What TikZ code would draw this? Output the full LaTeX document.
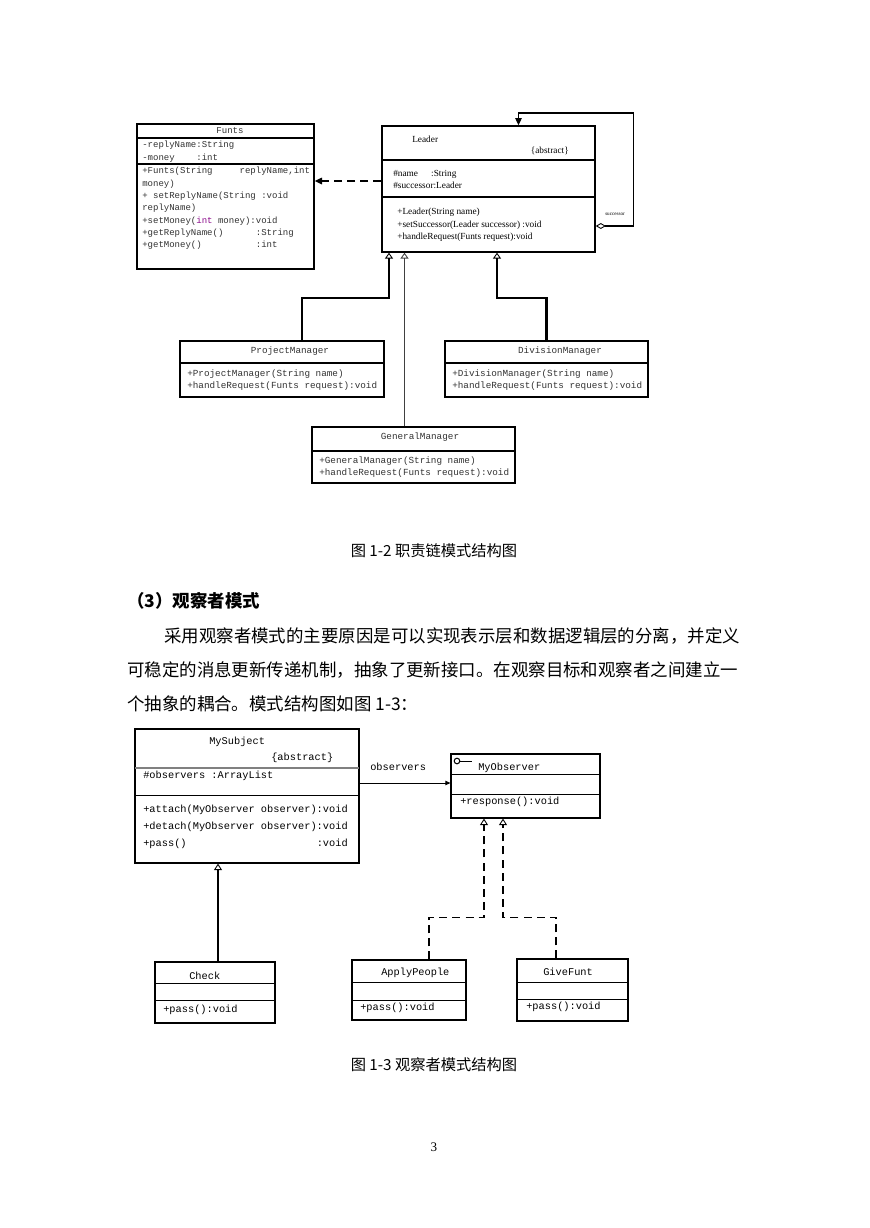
\documentclass[tikz,border=0pt]{standalone}
\usepackage{fontspec}
\setmainfont{Liberation Serif}
\newfontfamily\cjk{Noto Sans CJK SC}
\newfontfamily\umlmono{Liberation Mono}
\usetikzlibrary{arrows.meta,fit,calc,positioning}
\definecolor{intpurple}{rgb}{0.55,0.05,0.55}

\tikzset{
  classbox/.style={draw, line width=1pt, inner sep=0pt},
  obsbox/.style={draw, line width=0.75pt, inner sep=0pt},
  sep/.style={line width=0.8pt},
  septhin/.style={line width=0.6pt},
  funtstext/.style={font=\umlmono\fontsize{6.2}{8.5}\selectfont, text=black!80, inner sep=0pt, align=left},
  leadertext/.style={font=\fontsize{6.4}{8.5}\selectfont, inner sep=0pt, align=left},
  mgrtext/.style={font=\umlmono\fontsize{6.4}{8.8}\selectfont, text=black!80, inner sep=0pt, align=left},
  obstext/.style={font=\umlmono\fontsize{7.1}{11.6}\selectfont, inner sep=0pt, align=left},
  cntext/.style={font=\cjk\fontsize{12}{12}\selectfont, inner sep=0pt, anchor=west},
  captext/.style={font=\cjk\fontsize{10.5}{10.5}\selectfont, inner sep=0pt},
  depend/.style={-{Triangle[length=5pt,width=4.5pt]}, line width=1pt, dash pattern=on 5.5pt off 3.5pt},
  selfassoc/.style={{Diamond[open,length=7pt,width=4pt,line width=0.6pt]}-{Triangle[length=5pt,width=4.5pt]}, line width=0.9pt},
  genthick/.style={-{Triangle[open,length=4pt,width=5.5pt,line width=0.6pt]}, line width=1.6pt},
  genthin/.style={-{Triangle[open,length=4pt,width=5.5pt,line width=0.6pt]}, line width=0.7pt, black!75},
  gen/.style={-{Triangle[open,length=4.5pt,width=5.5pt,line width=0.6pt]}, line width=0.7pt},
  realize/.style={-{Triangle[open,length=4.5pt,width=5.5pt,line width=0.6pt]}, line width=0.7pt, dash pattern=on 5.5pt off 3.5pt},
  assoc/.style={-{Triangle[length=3.5pt,width=3pt]}, line width=0.7pt}
}

\begin{document}
\begin{tikzpicture}[x=0.2417mm,y=-0.2417mm]
  \useasboundingbox (0,0) rectangle (869,1228);

  % chain of responsibility classes
  \node (funts) [classbox, fit={(137,124) (314,269)}] {};
  \draw[sep] (137,138) -- (314,138);
  \draw[sep] (137,164) -- (314,164);
  \node (funtsname) [funtstext] at (230,131) {Funts};
  \node (funtsattr) [funtstext, anchor=north west] at (142,141)
        {-replyName:String\\-money~~~~:int};
  \node (funtsops) [funtstext, anchor=north west] at (142,167)
        {+Funts(String~~~~~replyName,int\\
         money)\\
         +~setReplyName(String~:void\\
         replyName)\\
         +setMoney(\textcolor{intpurple}{int}~money):void\\
         +getReplyName()~~~~~~:String\\
         +getMoney()~~~~~~~~~~:int};

  \node (leader) [classbox, fit={(382,126) (595,252)}] {};
  \draw[sep] (382,160) -- (595,160);
  \draw[sep] (382,197) -- (595,197);
  \node (leadername) [leadertext, anchor=west] at (412,139) {Leader};
  \node (leaderabs) [leadertext, anchor=east] at (569,151) {\{abstract\}};
  \node (leaderattr) [leadertext, anchor=north west] at (393,170)
        {\#name\hspace{9pt}:String\\\#successor:Leader};
  \node (leaderops) [leadertext, anchor=north west] at (397,208)
        {+Leader(String name)\\
         +setSuccessor(Leader successor) :void\\
         +handleRequest(Funts request):void};

  \node (pm) [classbox, fit={(180,341) (384,397)}] {};
  \draw[sep] (180,363) -- (384,363);
  \node (pmname) [mgrtext] at (290,351) {ProjectManager};
  \node (pmops) [mgrtext, anchor=north west] at (187,369)
        {+ProjectManager(String name)\\+handleRequest(Funts request):void};

  \node (dm) [classbox, fit={(445,341) (648,397)}] {};
  \draw[sep] (445,363) -- (648,363);
  \node (dmname) [mgrtext] at (560,351) {DivisionManager};
  \node (dmops) [mgrtext, anchor=north west] at (452,369)
        {+DivisionManager(String name)\\+handleRequest(Funts request):void};

  \node (gm) [classbox, fit={(312,427) (515,483)}] {};
  \draw[sep] (312,451) -- (515,451);
  \node (gmname) [mgrtext] at (420,437) {GeneralManager};
  \node (gmops) [mgrtext, anchor=north west] at (319,456)
        {+GeneralManager(String name)\\+handleRequest(Funts request):void};

  \coordinate (depfrom) at ($(leader.west)+(0,-8)$);
  \draw[depend] (depfrom) -- (depfrom -| funts.east);
  \coordinate (selfout) at ($(leader.east)+(0,37)$);
  \coordinate (selfin) at ($(leader.north)+(30,0)$);
  \draw[selfassoc] (selfout) -- ++(38,0) -- ++(0,-113) -| (selfin);
  \node (selflabel) [font=\fontsize{3.5}{4}\selectfont, inner sep=0pt] at (615,214) {successor};

  \draw[genthick] ($(pm.north)+(20,0)$) -- ++(0,-42) -| ($(leader.south)+(-99.5,0)$);
  \draw[genthin] ($(gm.north)+(-9,0)$) -- ($(leader.south)+(-84,0)$);
  \draw[genthick] (dm.north) -- ++(0,-42) -| ($(leader.south)+(8.5,0)$);

  \node (cap2) [captext] at (434,551) {图 1-2 职责链模式结构图};

  % text of the page
  \node (heading) [cntext, font=\cjk\bfseries\fontsize{12}{12}\selectfont] at (127,601) {（3）观察者模式};
  \node (para1) [cntext] at (164,636) {采用观察者模式的主要原因是可以实现表示层和数据逻辑层的分离，并定义};
  \node (para2) [cntext] at (127,670) {可稳定的消息更新传递机制，抽象了更新接口。在观察目标和观察者之间建立一};
  \node (para3) [cntext] at (127,704) {个抽象的耦合。模式结构图如图 1-3：};

  % observer classes
  \node (mysub) [obsbox, fit={(135,729) (359,863)}] {};
  \draw[gray, line width=1.2pt] (135,768) -- (359,768);
  \draw[septhin] (135,795) -- (359,795);
  \node (mysubname) [obstext, anchor=west] at (209,742) {MySubject};
  \node (mysubabs) [obstext, anchor=west] at (271,758) {\{abstract\}};
  \node (mysubattr) [obstext, anchor=west] at (143,776) {\#observers :ArrayList};
  \node (mysubops) [obstext, anchor=north west] at (143,805)
        {+attach(MyObserver observer):void\\
         +detach(MyObserver observer):void\\
         +pass()~~~~~~~~~~~~~~~~~~~~~:void};

  \node (myobs) [obsbox, fit={(451,754) (600,818)}] {};
  \draw[septhin] (451,774) -- (600,774);
  \draw[septhin] (451,794) -- (600,794);
  \draw[line width=0.7pt] (457,761) circle[radius=2.8];
  \draw[line width=0.7pt] (460,761) -- (472,761);
  \node (myobsname) [obstext, anchor=west] at (478,768) {MyObserver};
  \node (myobsops) [obstext, anchor=west] at (460,802) {+response():void};

  \node (check) [obsbox, fit={(155,962) (275,1023)}] {};
  \draw[septhin] (155,983) -- (275,983);
  \draw[septhin] (155,1000) -- (275,1000);
  \node (checkname) [obstext, anchor=west] at (189,976) {Check};
  \node (checkops) [obstext, anchor=west] at (163,1010) {+pass():void};

  \node (ap) [obsbox, fit={(352,960) (466,1020)}] {};
  \draw[septhin] (352,982) -- (466,982);
  \draw[septhin] (352,1000) -- (466,1000);
  \node (apname) [obstext, anchor=west] at (381,973) {ApplyPeople};
  \node (apops) [obstext, anchor=west] at (360,1008) {+pass():void};

  \node (gf) [obsbox, fit={(517,959) (628,1021)}] {};
  \draw[septhin] (517,982) -- (628,982);
  \draw[septhin] (517,999) -- (628,999);
  \node (gfname) [obstext, anchor=west] at (543,972) {GiveFunt};
  \node (gfops) [obstext, anchor=west] at (526,1007) {+pass():void};

  \coordinate (obsfrom) at ($(mysub.east)+(0,-13)$);
  \draw[assoc] (obsfrom) -- (obsfrom -| myobs.west);
  \node (obslabel) [obstext, anchor=west] at (370,767) {observers};
  \draw[gen] ($(check.north)+(3,0)$) -- ($(mysub.south)+(-29,0)$);
  \draw[realize] ($(ap.north)+(20,0)$) -- ++(0,-42) -| ($(myobs.south)+(-41.5,0)$);
  \draw[realize] ($(gf.north)+(-16.5,0)$) -- ++(0,-41) -| ($(myobs.south)+(-22.5,0)$);

  \node (cap3) [captext] at (434,1065) {图 1-3 观察者模式结构图};
  \node (pagenum) [font=\fontsize{9}{9}\selectfont, inner sep=0pt] at (434,1147) {3};
\end{tikzpicture}
\end{document}
